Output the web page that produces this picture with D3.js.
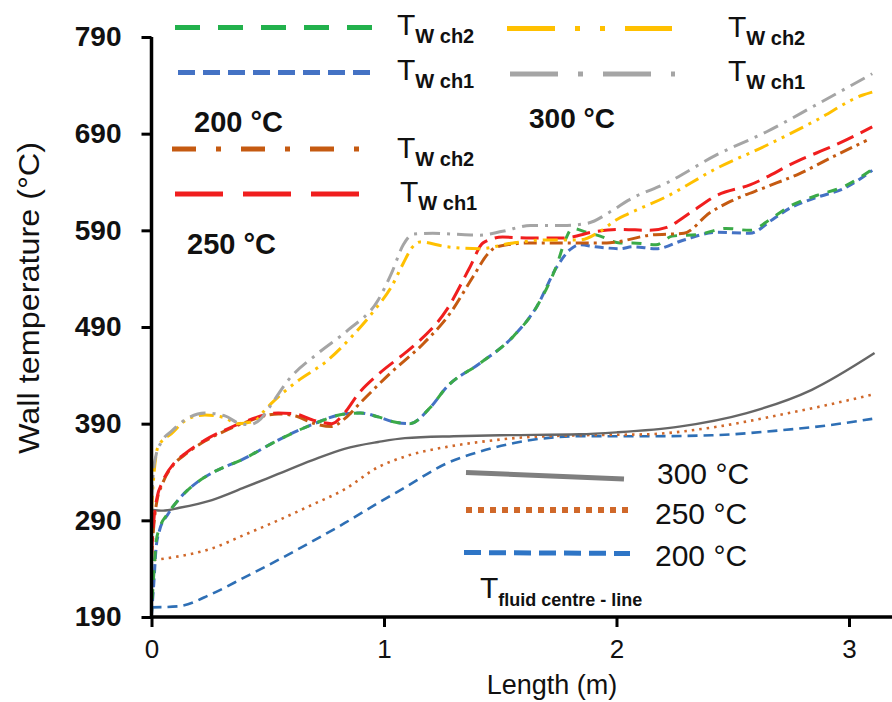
<!DOCTYPE html>
<html><head><meta charset="utf-8">
<script src="https://cdn.jsdelivr.net/npm/d3@7"></script>
<style>html,body{margin:0;padding:0;background:#fff}svg{display:block}text{font-family:"Liberation Sans",Arial,sans-serif}</style>
</head><body><svg id="c" width="892" height="702"></svg>
<script>
// ---- data (x = length in m, y = temperature in °C) ----
const yTicks = [190, 290, 390, 490, 590, 690, 790];
const xTicks = [0, 1, 2, 3];

const wall200ch1 = [[0,192],[0.01,225],[0.02,262],[0.035,280],[0.07,296],[0.115,311],[0.2,330],[0.26,339],[0.4,354],[0.545,373],[0.69,389],[0.83,400],[0.9,401],[0.975,397],[1.04,392],[1.11,390],[1.2,407],[1.27,428],[1.41,452],[1.555,480],[1.657,511],[1.743,552],[1.8,570],[1.84,575],[1.91,573],[2.015,571],[2.07,573],[2.17,571],[2.29,580],[2.43,588],[2.574,587],[2.67,601],[2.746,613],[2.86,624],[2.975,633],[3.1,652]];
const wall200ch2 = [[0,195],[0.01,235],[0.02,268],[0.035,282],[0.07,297],[0.115,311],[0.2,330],[0.26,339],[0.4,354],[0.545,373],[0.69,389],[0.83,400],[0.9,401],[0.975,397],[1.04,392],[1.11,390],[1.2,407],[1.27,428],[1.41,452],[1.555,480],[1.657,511],[1.743,554],[1.78,580],[1.81,592],[1.87,588],[1.93,584],[2.015,577],[2.07,577],[2.17,575],[2.24,584],[2.36,586],[2.47,592],[2.574,590],[2.67,603],[2.746,615],[2.86,626],[2.975,635],[3.1,653]];
const wall250ch1 = [[0,255],[0.01,290],[0.025,315],[0.044,328],[0.1,350],[0.144,359],[0.23,373],[0.33,385],[0.4,392],[0.545,401],[0.62,400],[0.69,394],[0.775,390],[0.83,401],[0.89,421],[0.975,441],[1.09,463],[1.125,470],[1.27,508],[1.37,552],[1.426,577],[1.51,583],[1.63,582],[1.77,582],[1.915,589],[2.015,591],[2.144,590],[2.216,593],[2.316,608],[2.43,626],[2.574,637],[2.79,663],[2.93,677],[3.1,697]];
const wall250ch2 = [[0,250],[0.01,285],[0.025,312],[0.044,326],[0.1,349],[0.144,358],[0.23,372],[0.33,384],[0.4,391],[0.545,400],[0.62,398],[0.69,391],[0.775,387],[0.83,395],[0.9,412],[1.026,442],[1.17,473],[1.284,504],[1.383,542],[1.448,566],[1.485,573],[1.63,577],[1.786,577],[1.958,577],[2.0,578],[2.144,585],[2.29,587],[2.4,608],[2.5,621],[2.646,635],[2.79,649],[2.93,666],[3.076,683]];
const wall300ch1 = [[0,310],[0.008,340],[0.02,358],[0.04,370],[0.09,383],[0.157,396],[0.23,401],[0.316,398],[0.37,391],[0.42,389],[0.47,395],[0.51,408],[0.588,435],[0.717,463],[0.846,487],[0.975,518],[1.033,546],[1.083,575],[1.125,586],[1.21,587],[1.3,586],[1.41,585],[1.51,589],[1.63,595],[1.77,595],[1.87,597],[1.985,611],[2.05,621],[2.216,639],[2.43,668],[2.646,692],[2.86,720],[3.1,752]];
const wall300ch2 = [[0,300],[0.008,330],[0.018,355],[0.028,366],[0.087,380],[0.157,395],[0.23,399],[0.316,396],[0.37,390],[0.445,393],[0.48,402],[0.52,412],[0.617,432],[0.76,456],[0.861,480],[0.961,508],[1.033,532],[1.083,556],[1.12,572],[1.155,578],[1.27,573],[1.41,571],[1.556,577],[1.7,580],[1.84,580],[1.93,589],[2.0,601],[2.05,607],[2.216,625],[2.43,654],[2.646,678],[2.86,704],[3.06,730],[3.1,733]];
const fluid300 = [[0,301],[0.05,300],[0.12,303],[0.26,311],[0.4,324],[0.545,338],[0.69,352],[0.83,364],[0.975,371],[1.09,375],[1.3,377],[1.5,378],[1.84,379],[2.0,381],[2.27,387],[2.56,401],[2.84,425],[3.11,463]];
const fluid250 = [[0.01,249],[0.1,252],[0.26,261],[0.4,275],[0.545,290],[0.69,306],[0.83,322],[0.975,345],[1.09,356],[1.27,366],[1.41,371],[1.56,375],[1.84,378],[2.13,379],[2.41,386],[2.7,399],[2.9,409],[3.1,420]];
const fluid200 = [[0,200],[0.115,201],[0.26,214],[0.4,231],[0.545,249],[0.69,268],[0.83,287],[0.975,308],[1.09,324],[1.27,349],[1.41,361],[1.56,370],[1.84,377],[2.13,377],[2.41,378],[2.7,383],[2.9,388],[3.1,395]];

// ---- styles ----
const C = {green:"#3BAA48", blue:"#4472C4", brown:"#C55A11", red:"#F01E1E", yellow:"#FFC000", gray:"#A5A5A5",
  fGray:"#666666", fOrange:"#D0682A", fBlue:"#2E6FB5"};

const svg = d3.select("#c");
svg.append("rect").attr("width",892).attr("height",702).attr("fill","#fff");

const x = d3.scaleLinear().domain([0, 3.185]).range([151.5, 892]);
const y = d3.scaleLinear().domain([190, 790]).range([617, 37]);

const line = d3.line().x(d=>x(d[0])).y(d=>y(d[1])).curve(d3.curveMonotoneX);

const series = [
  {d:fluid200, c:C.fBlue, w:2.6, dash:"10,6"},
  {d:fluid250, c:C.fOrange, w:2.6, dash:"2.5,5"},
  {d:fluid300, c:C.fGray, w:2.4, dash:null},
  {d:wall200ch1, c:C.blue, w:3, dash:"9,5"},
  {d:wall200ch2, c:C.green, w:3, dash:"10,9", off:6},
  {d:wall250ch2, c:C.brown, w:3, dash:"13,5,3,5"},
  {d:wall250ch1, c:C.red, w:3, dash:"18,8"},
  {d:wall300ch2, c:C.yellow, w:3, dash:"15,6,3,6,3,6"},
  {d:wall300ch1, c:C.gray, w:3, dash:"16,7,3,7"},
];
svg.append("g").selectAll("path").data(series).join("path")
  .attr("d", s=>line(s.d)).attr("fill","none")
  .attr("stroke", s=>s.c).attr("stroke-width", s=>s.w)
  .attr("stroke-dasharray", s=>s.dash).attr("stroke-dashoffset", s=>s.off||0);

// ---- axes ----
const ya = svg.append("g").attr("transform","translate(151.5,0)")
  .call(d3.axisLeft(y).tickValues(yTicks).tickSize(10).tickPadding(20).tickFormat(d3.format("d")));
ya.select(".domain").attr("d","M0,37V617").attr("stroke","#000").attr("stroke-width",3.5);
ya.selectAll(".tick line").attr("stroke","#000").attr("stroke-width",3);
ya.selectAll(".tick text").attr("font-size",28).attr("font-weight","bold").attr("fill","#111")
  .attr("font-family","Liberation Sans, Arial, sans-serif");

const xa = svg.append("g").attr("transform","translate(0,617)")
  .call(d3.axisBottom(x).tickValues(xTicks).tickSize(10).tickPadding(13).tickFormat(d3.format("d")));
xa.select(".domain").attr("d","M151.5,0H892").attr("stroke","#000").attr("stroke-width",3.5);
xa.selectAll(".tick line").attr("stroke","#000").attr("stroke-width",3);
xa.selectAll(".tick text").attr("font-size",26).attr("fill","#111")
  .attr("font-family","Liberation Sans, Arial, sans-serif");

svg.append("text").attr("x",552).attr("y",694).attr("text-anchor","middle")
  .attr("font-size",27).attr("fill","#111").text("Length (m)");
svg.append("text").attr("transform","translate(39,298) rotate(-90)").attr("text-anchor","middle")
  .attr("font-size",29).attr("textLength",312).attr("lengthAdjust","spacingAndGlyphs")
  .attr("fill","#111").text("Wall temperature (°C)");

// ---- legends ----
function legLine(x1,y1,x2,y2,c,w,dash,cap){
  svg.append("line").attr("x1",x1).attr("y1",y1).attr("x2",x2).attr("y2",y2)
    .attr("stroke",c).attr("stroke-width",w).attr("stroke-dasharray",dash).attr("stroke-linecap",cap||"butt");
}
function tLabel(xp,yp,sub,subSize){
  const t = svg.append("text").attr("x",xp).attr("y",yp).attr("fill","#111").attr("font-size",30);
  t.append("tspan").text("T");
  t.append("tspan").attr("dy",8).attr("font-size",subSize||20).attr("font-weight","bold").text(sub);
}
function plain(xp,yp,s,size,weight,family){
  svg.append("text").attr("x",xp).attr("y",yp).attr("fill","#111").attr("font-size",size)
    .attr("font-weight",weight||"normal").attr("font-family",family||"Liberation Sans, Arial, sans-serif").text(s);
}
// top-left (200 / 250)
legLine(175,27.5,372,27.5,"#22B14C",5,"25,18");
tLabel(397,35,"W ch2");
legLine(178,72.5,370,72.5,C.blue,5,"17,8");
tLabel(397,80,"W ch1");
plain(194,132,"200 °C",29,"bold");
legLine(172,149,360,149,C.brown,5,"24,20,5,20");
tLabel(397,158,"W ch2");
legLine(175,194,360,194,"#F01E1E",5,"48,20");
tLabel(400,202,"W ch1");
plain(187,254,"250 °C",29,"bold");
// top-right (300)
legLine(507,28.5,672,28.5,C.yellow,5,"48,20,5,20,5,20");
tLabel(728,37,"W ch2");
legLine(510,74,675,74,C.gray,5,"48,20,5,20");
tLabel(728,81,"W ch1");
plain(529,128,"300 °C",28,"bold","Liberation Serif, Times New Roman, serif");
// bottom (fluid centre-line)
legLine(466,472.5,624,479,"#7F7F7F",5,null);
plain(657,484,"300 °C",30);
legLine(466,510,630,510,C.fOrange,6,"6,6");
plain(655,524,"250 °C",30);
legLine(464,552.5,630,553.5,"#2E75C6",5,"17,8");
plain(655,566,"200 °C",30);
tLabel(480,598,"fluid centre - line",18);
</script></body></html>
